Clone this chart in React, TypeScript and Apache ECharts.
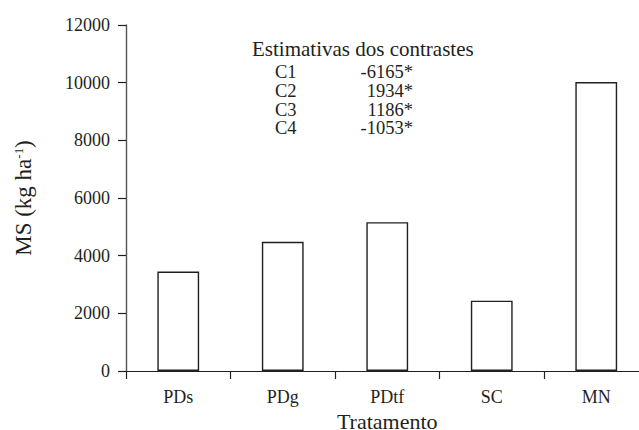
import React, { useEffect, useRef } from "react";
import * as echarts from "echarts";

const categories = ["PDs", "PDg", "PDtf", "SC", "MN"];
const msValues = [3450, 4480, 5160, 2440, 10020];
const yTicks = [0, 2000, 4000, 6000, 8000, 10000, 12000];
const contrastTitle = "Estimativas dos contrastes";
const contrastNames = ["C1", "C2", "C3", "C4"];
const contrastValues = ["-6165*", "1934*", "1186*", "-1053*"];

const FONT = "Liberation Serif";
const INK = "#231f20";

export default function App() {
  const ref = useRef<HTMLDivElement>(null);
  useEffect(() => {
    if (!ref.current) return;
    const chart = echarts.init(ref.current, undefined, { renderer: "svg" });
    const graphics: any[] = [
      {
        type: "text",
        x: 252,
        y: 49,
        style: {
          text: contrastTitle,
          fontFamily: FONT,
          fontSize: 21,
          fill: INK,
          textAlign: "left",
          textVerticalAlign: "middle",
        },
      },
      {
        type: "text",
        x: 275,
        y: 63,
        style: {
          text: contrastNames.join("\n"),
          fontFamily: FONT,
          fontSize: 18.5,
          lineHeight: 18.6,
          fill: INK,
          textAlign: "left",
          textVerticalAlign: "top",
        },
      },
      {
        type: "text",
        x: 413,
        y: 63,
        style: {
          text: contrastValues.join("\n"),
          fontFamily: FONT,
          fontSize: 18.5,
          lineHeight: 18.6,
          fill: INK,
          textAlign: "right",
          textVerticalAlign: "top",
        },
      },
    ];
    chart.setOption({
      animation: false,
      textStyle: { fontFamily: FONT },
      grid: { left: 126, right: 1.5, top: 25, bottom: 59, containLabel: false, outerBoundsMode: "none" },
      xAxis: {
        type: "category",
        data: categories,
        boundaryGap: true,
        name: "Tratamento",
        nameLocation: "middle",
        nameGap: 35,
        nameTextStyle: { fontFamily: FONT, fontSize: 22, lineHeight: 18, color: INK },
        axisLine: { show: true, lineStyle: { color: INK, width: 1.2 } },
        axisTick: { show: true, length: 8, alignWithLabel: false, lineStyle: { color: INK, width: 1.2 } },
        axisLabel: { fontFamily: FONT, fontSize: 18, color: INK, margin: 17 },
        splitLine: { show: false },
      },
      yAxis: {
        type: "value",
        min: yTicks[0],
        max: yTicks[yTicks.length - 1],
        interval: yTicks[1] - yTicks[0],
        name: "MS (kg ha{sup|-1})",
        nameLocation: "middle",
        nameGap: 91,
        nameRotate: 90,
        nameTextStyle: {
          fontFamily: FONT,
          fontSize: 23,
          color: INK,
          rich: {
            sup: { fontFamily: FONT, fontSize: 13, color: INK, verticalAlign: "top", padding: [0, 0, 10, 0] },
          },
        },
        axisLine: { show: true, lineStyle: { color: "#555", width: 1.4 } },
        axisTick: { show: true, length: 8, inside: false, lineStyle: { color: INK, width: 1.2 } },
        axisLabel: { fontFamily: FONT, fontSize: 18, color: INK, margin: 16, formatter: (v: number) => String(v) },
        splitLine: { show: false },
      },
      series: [
        {
          type: "bar",
          data: msValues,
          barWidth: "40%",
          itemStyle: { color: "#ffffff", borderColor: INK, borderWidth: 1.4 },
        },
      ],
      graphic: graphics,
    });
    return () => chart.dispose();
  }, []);
  return (
    <div style={{ position: "fixed", left: 0, top: 0, width: 639, height: 430, overflow: "hidden", background: "#fff" }}>
      <div ref={ref} style={{ width: 650, height: 430 }} />
    </div>
  );
}
